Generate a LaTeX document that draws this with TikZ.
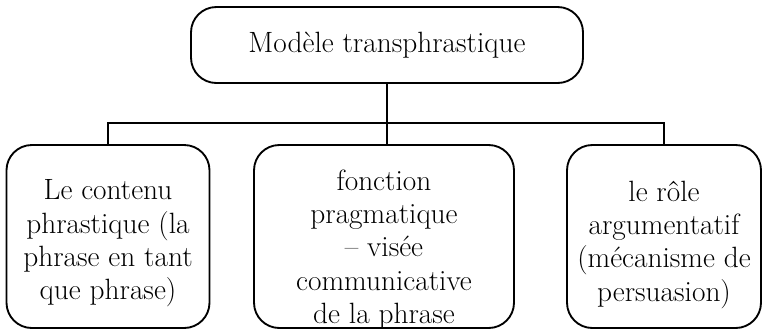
\documentclass[tikz,border=0pt]{standalone}
\usepackage{tikz}
\usetikzlibrary{calc, positioning}

\tikzset{
    hop/.style={draw, line width=1.4pt, rounded corners=19pt},
    chu/.style={align=center, font=\fontsize{22}{25}\selectfont, inner sep=0pt}
}

\begin{document}
\begin{tikzpicture}[x=0.75pt, y=-0.75pt]
                % 1. Khung
                \useasboundingbox (0,0) rectangle (762,330);
                
                % 2. Các hộp
                \node[hop, minimum width=392pt*0.75, minimum height=76pt*0.75] (top) at (387,45) {};
                \node[hop, minimum width=203pt*0.75, minimum height=183pt*0.75] (left) at (108,236.5) {};
                \node[hop, minimum width=260pt*0.75, minimum height=183pt*0.75] (mid) at (384,236.5) {};
                \node[hop, minimum width=194pt*0.75, minimum height=183pt*0.75] (right) at (664,236.5) {};
                
                % 3. Chữ trong hộp
                \node[chu] (toptext) at (top.center) {Modèle transphrastique};
                \node[chu] (lefttext) at ($(left.center)+(0,7)$)
                    {Le contenu\\ phrastique (la\\ phrase en tant\\ que phrase)};
                \node[chu] (midtext) at ($(mid.center)+(0,13)$)
                    {fonction\\ pragmatique\\ – visée\\ communicative\\ de la phrase};
                \node[chu] (righttext) at ($(right.center)+(0,8)$)
                    {le rôle\\ argumentatif\\ (mécanisme de\\ persuasion)};
                
                % 4. Đường nối
                \coordinate (bus) at (387,123);
                \draw[line width=1.4pt] (top.south) -- (top.south |- mid.north);
                \draw[line width=1.4pt] (left.north) |- (bus) -| (right.north);
            \end{tikzpicture}
\end{document}
